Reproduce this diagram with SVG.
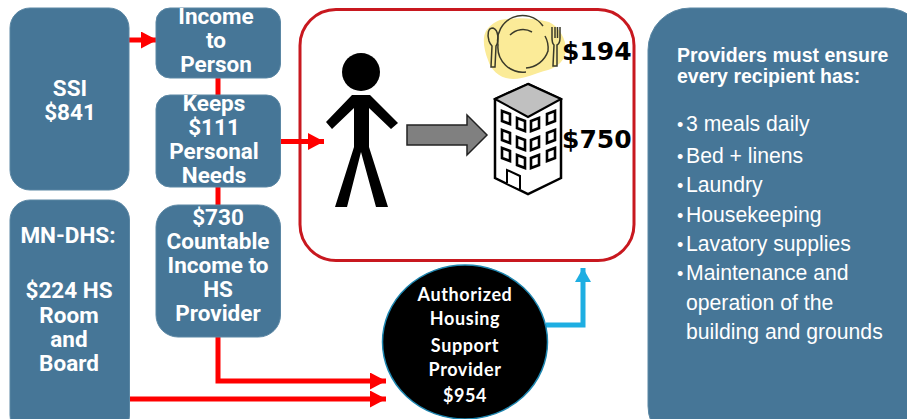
<svg xmlns="http://www.w3.org/2000/svg" width="907" height="419" viewBox="0 0 907 419">
<style>
.box{fill:#467697;stroke:#5b87a4;stroke-width:1}
.t{font-family:"Roboto","Noto Sans",sans-serif;font-weight:700;font-size:22.500px;fill:#fff;text-anchor:middle}
.p{font-family:"Lato","Open Sans",sans-serif;font-weight:700;font-size:18px;letter-spacing:.6px;fill:#fff;text-anchor:middle}
.h{font-family:"Liberation Sans",Arial,sans-serif;font-weight:700;font-size:19.500px;fill:#fff}
.l{font-family:"Liberation Sans",Arial,sans-serif;font-size:21.200px;fill:#fff}
.d{font-family:"Liberation Sans",Arial,sans-serif;font-size:18px;fill:#fff}
.m{font-family:"DejaVu Sans",sans-serif;font-weight:700;font-size:25px;fill:#000}
.r{fill:none;stroke:#f00;stroke-width:5}
.b{fill:none;stroke:#1eaee2;stroke-width:5}
.w{fill:#fff;stroke:#000;stroke-width:2.500}
.o{fill:none;stroke:#3a3a2a;stroke-width:1.500}
.v{fill:#fff;stroke:#000;stroke-width:2.600}
</style>
<defs>
<marker id="ar" markerUnits="userSpaceOnUse" markerWidth="16" markerHeight="17" refX="16" refY="8.500" orient="auto"><path d="M0 0L16 8.500L0 17Z" fill="#f00"/></marker>
<marker id="ab" markerUnits="userSpaceOnUse" markerWidth="16" markerHeight="16" refX="14" refY="8" orient="auto"><path d="M0 0L14 8L0 16Z" fill="#1eaee2"/></marker>
</defs>
<g id="frame"><rect x="300" y="9.500" width="334" height="251" rx="36" fill="#fff" stroke="#c8181f" stroke-width="3"/></g>
<g id="connectors">
<path class="r" d="M129 40H157" marker-end="url(#ar)"/>
<path class="r" d="M218 78V96"/>
<path class="r" d="M218 187V206"/>
<path class="r" d="M281 141.500H324" marker-end="url(#ar)"/>
<path class="r" d="M218 337V381H386" marker-end="url(#ar)"/>
<path class="r" d="M130 399H386" marker-end="url(#ar)"/>
<path class="b" d="M546 325H583V268" marker-end="url(#ab)"/>
</g>
<g id="ssi"><rect class="box" x="10" y="8" width="119" height="182" rx="20"/><text class="t" x="70" y="96">SSI</text><text class="t" x="70" y="120">$841</text></g>
<g id="income"><rect class="box" x="156" y="8" width="124.500" height="70" rx="14"/><text class="t" x="216" y="24">Income</text><text class="t" x="216" y="48">to</text><text class="t" x="216" y="72">Person</text></g>
<g id="keeps"><rect class="box" x="156" y="95" width="124.500" height="92" rx="14"/><text class="t" x="214" y="111">Keeps</text><text class="t" x="214" y="135">$111</text><text class="t" x="214" y="159">Personal</text><text class="t" x="214" y="183">Needs</text></g>
<g id="countable"><rect class="box" x="156" y="205" width="124.500" height="132" rx="22"/><text class="t" x="218" y="225">$730</text><text class="t" x="218" y="249">Countable</text><text class="t" x="218" y="273">Income to</text><text class="t" x="218" y="297">HS</text><text class="t" x="218" y="321">Provider</text></g>
<g id="mndhs"><rect class="box" x="10" y="200" width="119.500" height="235" rx="20"/><text class="t" x="68" y="243">MN-DHS:</text><text class="t" x="69" y="298">$224 HS</text><text class="t" x="69" y="323">Room</text><text class="t" x="69" y="347">and</text><text class="t" x="69" y="371">Board</text></g>
<g id="provider"><ellipse cx="465" cy="342" rx="82.500" ry="77" fill="#000" stroke="#1e86b0" stroke-width="1.500"/><text class="p" x="465" y="301">Authorized</text><text class="p" x="465" y="325">Housing</text><text class="p" x="465" y="352">Support</text><text class="p" x="465" y="376">Provider</text><text class="p" x="465" y="402">$954</text></g>
<g id="person">
<circle cx="361" cy="72" r="19"/>
<path d="M352 95H370L398 123L391 129L369 108V147L388 207H376L361 152L347 207H335L354 147V108L332 129L326 122Z"/>
</g>
<g id="flow-arrow"><path d="M407 125H467V115L487 135L467 155V145H407Z" fill="#808080" stroke="#222" stroke-width="1.500"/></g>
<g id="meal">
<path d="M500 20C515 17 535 18 549 22C560 27 566 40 566 50C565 60 558 67 548 70C535 73 525 79 513 79C500 79 491 70 488 60C484 50 482 38 486 31C490 25 495 22 500 20Z" fill="#fbeb98"/>
<path class="o" d="M543 26A25 25 0 0 0 498 45A25 25 0 0 0 526 72"/>
<path class="o" d="M545 36A25 25 0 0 1 548 51A25 25 0 0 1 526 68"/>
<path class="o" d="M510 35A18 18 0 0 1 532 32"/>
<path class="o" d="M493 28C488 28 487 34 489 41C490 44 491 45 492 46L491 67L495 67L496 46C499 42 499 30 493 28Z"/>
<path class="o" d="M552 27V38C552 42 553 44 554 45L553 66L557 66L557 45C559 44 560 42 560 38V27M555 27V38M557.500 27V38"/>
</g>
<g id="building">
<path class="w" d="M528 84L561 99V178L528 194L495 178V99Z"/>
<path d="M528 84L561 99L528 117L495 99Z" fill="#c0c0c0" stroke="#000" stroke-width="2"/>
<path class="v" d="M502 111L510 114V124L502 121Z"/><path class="v" d="M517 118L525 121V131L517 128Z"/><path class="v" d="M531 121L539 118V128L531 131Z"/><path class="v" d="M547 114L555 111V121L547 124Z"/>
<path class="v" d="M502 130L510 133V143L502 140Z"/><path class="v" d="M517 137L525 140V150L517 147Z"/><path class="v" d="M531 140L539 137V147L531 150Z"/><path class="v" d="M547 133L555 130V140L547 143Z"/>
<path class="v" d="M502 148L510 151V161L502 158Z"/><path class="v" d="M517 155L525 158V168L517 165Z"/><path class="v" d="M531 158L539 155V165L531 168Z"/><path class="v" d="M547 151L555 148V158L547 161Z"/>
<path d="M507 183V170L520 176V189" fill="#fff" stroke="#000" stroke-width="2"/>
</g>
<text class="m" x="562" y="60">$194</text>
<text class="m" x="562" y="148">$750</text>
<g id="requirements"><rect class="box" x="648" y="8" width="280" height="440" rx="42"/>
<text class="h" x="677" y="62">Providers must ensure</text><text class="h" x="677" y="83">every recipient has:</text>
<text class="d" x="677" y="131">•</text><text class="l" x="686" y="131">3 meals daily</text><text class="d" x="677" y="163">•</text><text class="l" x="686" y="163">Bed + linens</text><text class="d" x="677" y="192">•</text><text class="l" x="686" y="192">Laundry</text><text class="d" x="677" y="222">•</text><text class="l" x="686" y="222">Housekeeping</text><text class="d" x="677" y="251">•</text><text class="l" x="686" y="251">Lavatory supplies</text><text class="d" x="677" y="280">•</text><text class="l" x="686" y="280">Maintenance and</text><text class="l" x="686" y="310">operation of the</text><text class="l" x="686" y="339">building and grounds</text></g>
</svg>
